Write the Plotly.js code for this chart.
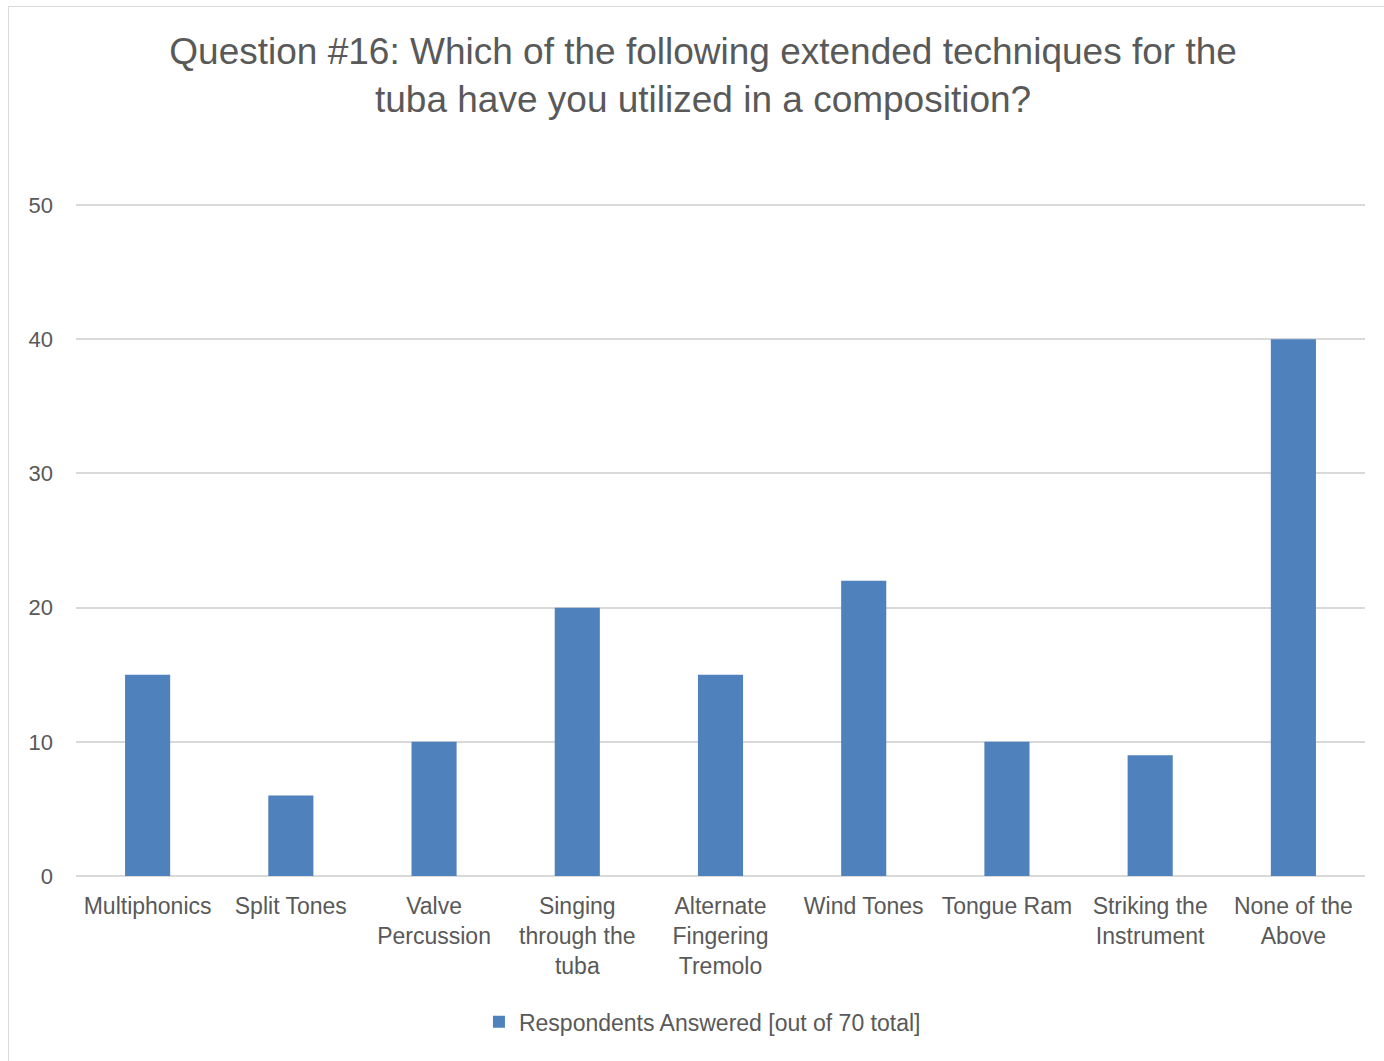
<!DOCTYPE html>
<html>
<head>
<meta charset="utf-8">
<script src="https://cdn.plot.ly/plotly-3.0.1.min.js"></script>
<style>
  html, body { margin: 0; padding: 0; background: #ffffff; overflow: hidden; }
  #wrap { position: relative; width: 1384px; height: 1061px; }
  #chart { width: 1384px; height: 1061px; }
  #frame {
    position: absolute; left: 8px; top: 6px; width: 1400px; height: 1100px;
    border: 1.5px solid #d9d9d9; pointer-events: none; box-sizing: border-box;
  }
</style>
</head>
<body>
<div id="wrap">
  <div id="chart"></div>
  <div id="frame"></div>
</div>
<script>
// Extended tuba techniques used by composers (survey question 16)
const techniques = [
  "Multiphonics",
  "Split Tones",
  "Valve<br>Percussion",
  "Singing<br>through the<br>tuba",
  "Alternate<br>Fingering<br>Tremolo",
  "Wind Tones",
  "Tongue Ram",
  "Striking the<br>Instrument",
  "None of the<br>Above"
];
const respondents = [15, 6, 10, 20, 15, 22, 10, 9, 40];
const seriesName = "Respondents Answered [out of 70 total]";
const yTicks = [0, 10, 20, 30, 40, 50];

const FONT = "'Liberation Sans', Arial, Helvetica, sans-serif";
const GREY = "#595959";

const trace = {
  type: "bar",
  x: techniques,
  y: respondents,
  name: seriesName,
  marker: { color: "#4f81bd" },
  showlegend: true,
  hoverinfo: "x+y"
};

const layout = {
  width: 1384,
  height: 1061,
  paper_bgcolor: "#ffffff",
  plot_bgcolor: "#ffffff",
  font: { family: FONT, color: GREY, size: 23 },
  margin: { l: 76, r: 19, t: 204, b: 185 },
  bargap: 0.685,
  title: {
    text: "Question #16: Which of the following extended techniques for the<br>tuba have you utilized in a composition?",
    font: { family: FONT, size: 37, color: GREY },
    x: 0.508,
    xanchor: "center",
    xref: "container",
    y: 0.94,
    yanchor: "top",
    yref: "container"
  },
  xaxis: {
    type: "category",
    tickfont: { family: FONT, size: 23, color: GREY },
    showline: false,
    showgrid: false,
    zeroline: false,
    ticks: "",
    ticklabelstandoff: 14,
    tickangle: 0
  },
  yaxis: {
    range: [0, 50.08],
    tickvals: yTicks,
    ticktext: yTicks.map(String),
    tickfont: { family: FONT, size: 22, color: GREY },
    showgrid: true,
    gridcolor: "#d9d9d9",
    gridwidth: 1.5,
    zeroline: true,
    zerolinecolor: "#d9d9d9",
    zerolinewidth: 1.5,
    showline: false,
    ticks: "",
    ticklabelstandoff: 22
  },
  legend: {
    orientation: "h",
    x: 0.486,
    xanchor: "center",
    y: -0.217,
    yanchor: "middle",
    font: { family: FONT, size: 23, color: GREY },
    itemwidth: 30,
    bgcolor: "rgba(0,0,0,0)"
  }
};

Plotly.newPlot("chart", [trace], layout, { displayModeBar: false, responsive: false });
</script>
</body>
</html>
